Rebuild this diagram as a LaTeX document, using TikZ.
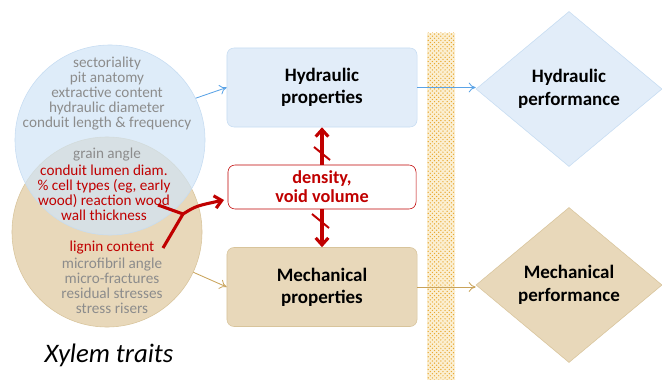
\documentclass[tikz,border=0pt]{standalone}
\usepackage{fontspec}
\setmainfont{Carlito}
\usetikzlibrary{arrows.meta,patterns,shapes.geometric}
\definecolor{bluefill}{HTML}{D0E4F6}
\definecolor{blueline}{HTML}{C6DCF2}
\definecolor{boxblue}{HTML}{E2EDF9}
\definecolor{arrowblue}{HTML}{5BA3E6}
\definecolor{tanfill}{HTML}{E8D8BA}
\definecolor{tanline}{HTML}{D8C49B}
\definecolor{arrowtan}{HTML}{C9A35A}
\definecolor{traitgray}{HTML}{8C8C8C}
\definecolor{darkred}{HTML}{C00000}
\definecolor{bandfill}{HTML}{FBEFD2}
\definecolor{banddot}{HTML}{E8A830}

\begin{document}
\begin{tikzpicture}[x=0.025cm,y=-0.025cm,
        trait/.style={font=\fontsize{10.8}{10.7}\selectfont,align=center,inner sep=0pt},
        propbox/.style={rounded corners=5pt,minimum width=4.75cm,minimum height=1.975cm,
            font=\fontsize{13.5}{15.5}\selectfont\bfseries,align=center},
        perf/.style={diamond,minimum width=4.65cm,minimum height=3.875cm,inner sep=0pt,
            font=\fontsize{13.5}{16}\selectfont\bfseries,align=center},
        thinarrow/.style={-{To[length=5pt,width=7pt]},line width=0.6pt},
        redarrow/.style={darkred,line width=2.2pt,-{Straight Barb[length=5pt,width=9pt]}}]
            \useasboundingbox (0,0) rectangle (662,380);
            \fill[bandfill] (427,33) rectangle (455,380);
            \fill[pattern=crosshatch dots,pattern color=banddot] (427,33) rectangle (455,380);
            \node[circle,minimum size=4.75cm,fill=tanfill,draw=tanline] (tc) at (107,232) {};
            \node[circle,minimum size=4.75cm,fill=bluefill,fill opacity=0.7,draw=blueline] (bc) at (110,140) {};
            \node[trait,text=traitgray] (hydtraits) at (107,93.5)
                {sectoriality\\pit anatomy\\extractive content\\hydraulic diameter\\conduit length \& frequency};
            \node[trait,text=traitgray] (grain) at (107,155) {grain angle};
            \node[trait,text=darkred] (shared) at (104,192.5)
                {conduit lumen diam.\\\% cell types (eg, early\\wood) reaction wood\\wall thickness};
            \node[trait,text=darkred] (lignin) at (112,248) {lignin content};
            \node[trait,text=traitgray] (mechtraits) at (112,285.5)
                {microfibril angle\\micro-fractures\\residual stresses\\stress risers};
            \node[font=\fontsize{19}{21}\selectfont\itshape] (xylem) at (109,355) {Xylem traits};
            \node[propbox,fill=boxblue,draw=blueline] (hyd) at (322,87.5) {Hydraulic\\properties};
            \node[propbox,fill=tanfill,draw=tanline] (mech) at (322,287) {Mechanical\\properties};
            \node[rounded corners=5pt,minimum width=4.7cm,minimum height=1.1cm,fill=white,draw=darkred,
                text=darkred,font=\fontsize{13}{13.5}\selectfont\bfseries,align=center] (dens) at (322,187)
                {density,\\void volume};
            \node[perf,fill=boxblue,draw=blueline] (hp) at (569,89) {Hydraulic\\performance};
            \node[perf,fill=tanfill,draw=tanline] (mp) at (569,285) {Mechanical\\performance};
            \draw[thinarrow,arrowblue] (bc.26) -- (hyd.west);
            \draw[thinarrow,arrowtan] (tc.-25) -- (mech.west);
            \draw[thinarrow,arrowblue] (hyd.east) -- (hyd.east -| hp.west);
            \draw[thinarrow,arrowtan] (mech.east) -- (mech.east -| mp.west);
            \draw[redarrow] (dens.north) -- (hyd.south);
            \draw[darkred,line width=1.4pt] (314,147) -- (330,160);
            \draw[redarrow] (dens.south) -- (mech.north);
            \draw[darkred,line width=1.4pt] (312,214) -- (329,228);
            \coordinate (ya) at (158,205);
            \coordinate (yb) at (163,248);
            \coordinate (yj) at (183,214);
            \coordinate (ytip) at (224,200);
            \draw[darkred,line width=2.2pt] (ya) -- (yj);
            \draw[darkred,line width=2.2pt] (yb) -- (yj);
            \draw[redarrow] (yj) .. controls (196,206) .. (ytip);
        \end{tikzpicture}
\end{document}
